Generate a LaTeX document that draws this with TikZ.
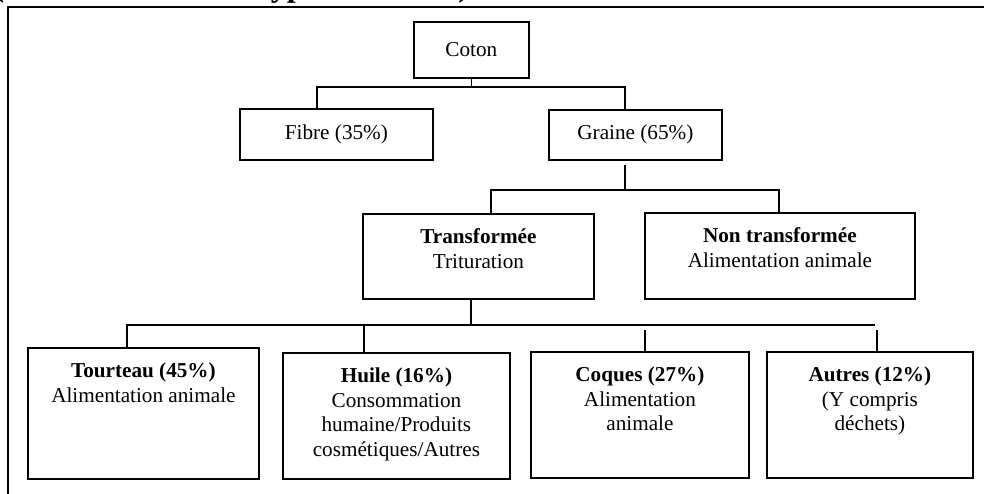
\documentclass[tikz,border=0pt]{standalone}
\usepackage{fontspec}
\setmainfont{Liberation Serif}
\usetikzlibrary{positioning}

\begin{document}
\begin{tikzpicture}[x=1pt, y=-1pt, line width=1.8pt,
boite/.style={draw, rectangle, anchor=north west, inner sep=0pt, font=\fontsize{21.2}{24.5}\selectfont},
texte/.style={anchor=north, align=center, inner sep=0pt, font=\fontsize{21.2}{24.5}\selectfont}]
\useasboundingbox (0,0) rectangle (984,494);
\clip (0,0) rectangle (984,494);
% cadre
\draw (8,7) rectangle (1000,520);
\node[anchor=south east, inner sep=0pt, font=\fontsize{32}{36}\selectfont\bfseries] (titre) at (470,4) {(transformation de type industriel)};
% Coton
\node[boite, minimum width=115, minimum height=56] (coton) at (413,21) {Coton};
\node[boite, minimum width=193, minimum height=51] (fibre) at (239,108) {Fibre (35\%)};
\node[boite, minimum width=173, minimum height=50] (graine) at (548,109) {Graine (65\%)};
% Graine
\node[boite, minimum width=231, minimum height=85] (transf) at (362,213) {};
\node[texte] (ttransf) at ([yshift=-15]transf.north) {\textbf{Transformée}\\Trituration};
\node[boite, minimum width=270, minimum height=86] (nontransf) at (644,212) {};
\node[texte] (tnontransf) at ([yshift=-15]nontransf.north) {\textbf{Non transformée}\\Alimentation animale};
% Trituration
\node[boite, minimum width=231, minimum height=131] (tourteau) at (27,347) {};
\node[texte] (ttourteau) at ([yshift=-15]tourteau.north) {\textbf{Tourteau (45\%)}\\Alimentation animale};
\node[boite, minimum width=227, minimum height=126] (huile) at (282,352) {};
\node[texte] (thuile) at ([yshift=-15]huile.north) {\textbf{Huile (16\%)}\\Consommation\\humaine/Produits\\cosmétiques/Autres};
\node[boite, minimum width=218, minimum height=126] (coques) at (530,351) {};
\node[texte] (tcoques) at ([yshift=-15]coques.north) {\textbf{Coques (27\%)}\\Alimentation\\animale};
\node[boite, minimum width=206, minimum height=126] (autres) at (766,351) {};
\node[texte] (tautres) at ([yshift=-15]autres.north) {\textbf{Autres (12\%)}\\(Y compris\\déchets)};
% liens
\coordinate (n1g) at (317,87);
\coordinate (n1d) at (625,87);
\draw (coton.south) -- (coton.south |- n1g);
\draw (n1g |- fibre.north) -- (n1g) -- (n1d) -- (n1d |- graine.north);
\coordinate (n2g) at (491,190);
\coordinate (n2d) at (779,190);
\draw ([yshift=-4]n1d |- graine.south) -- (n1d |- n2g);
\draw (n2g |- transf.north) -- (n2g) -- (n2d) -- (n2d |- nontransf.north);
\coordinate (n3g) at (127,325);
\coordinate (n3m) at (471,325);
\coordinate (n3d) at (875,325);
\draw (n3m |- transf.south) -- (n3m);
\draw (n3g |- tourteau.north) -- (n3g) -- (n3d);
\draw ([xshift=-32.5]huile.north) -- ++(0,-27);
\draw ([xshift=5]coques.north) -- ++(0,-21);
\draw ([xshift=7]autres.north) -- ++(0,-21);
\end{tikzpicture}
\end{document}
